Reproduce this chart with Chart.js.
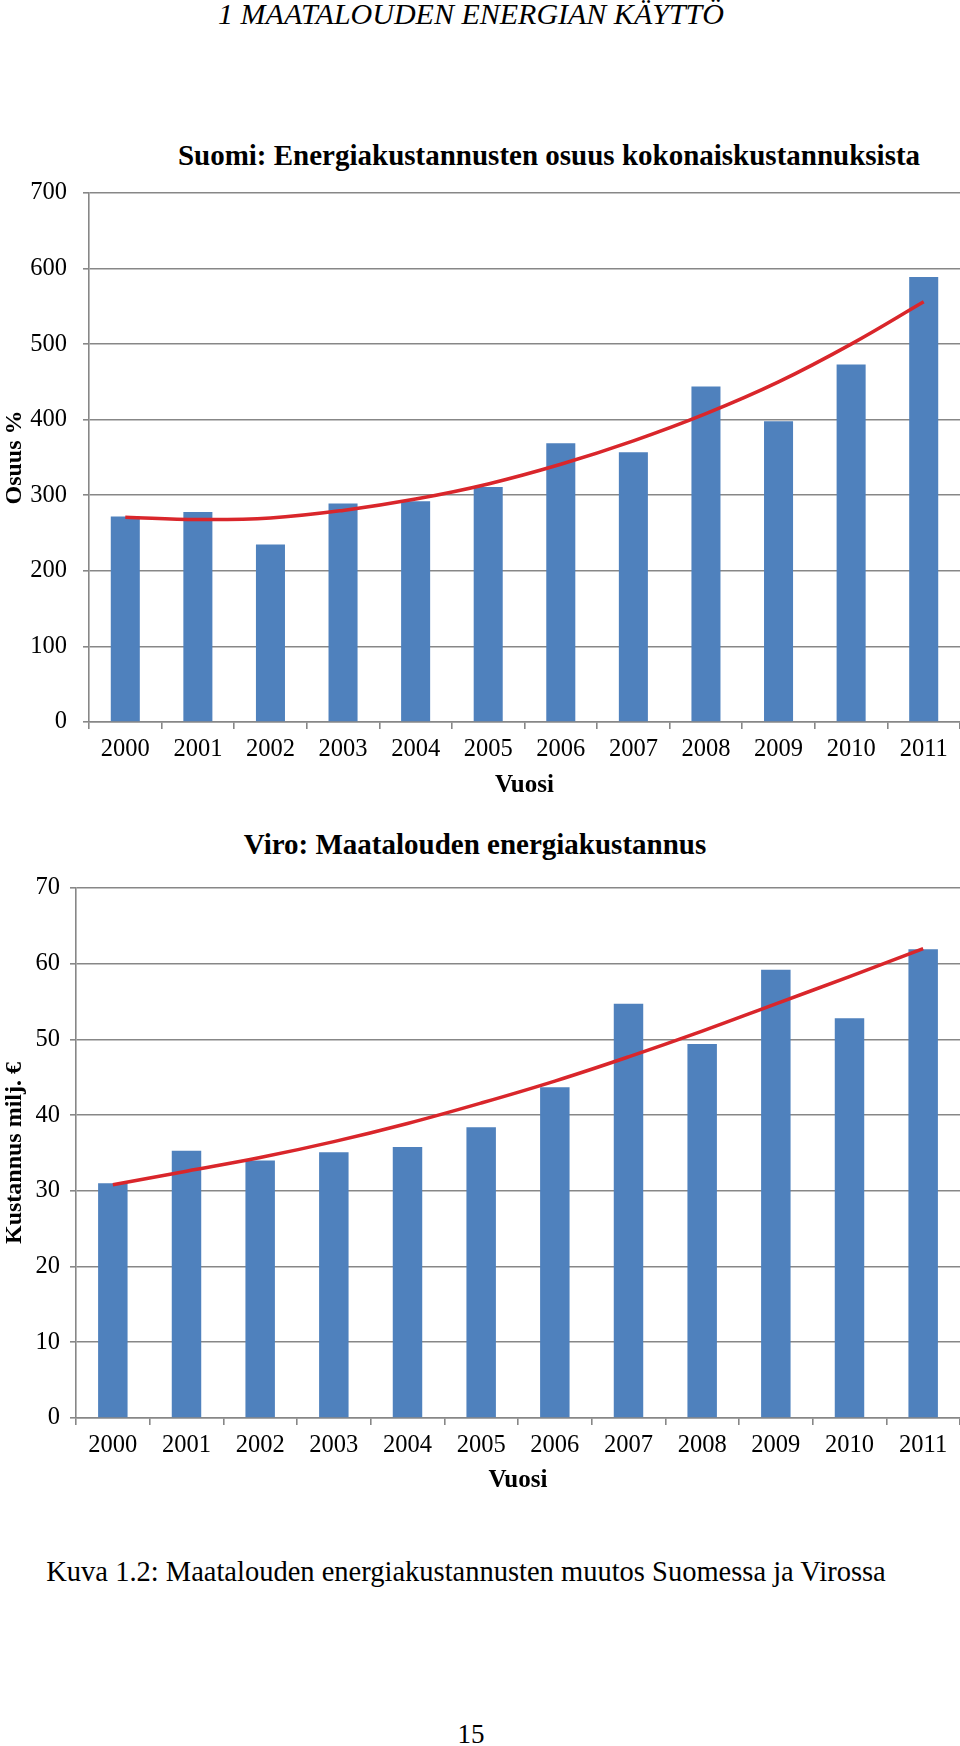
<!DOCTYPE html>
<html lang="fi">
<head>
<meta charset="utf-8">
<title>Maatalouden energiakustannukset</title>
<script src="https://cdn.jsdelivr.net/npm/chart.js@4.4.0/dist/chart.umd.min.js"></script>
<style>
    html, body { margin: 0; padding: 0; background: #fff; }
    body { width: 960px; height: 1746px; position: relative; overflow: hidden;
           font-family: 'Liberation Serif', 'Times New Roman', serif; color: #000; }
    .teksti { position: absolute; white-space: nowrap; line-height: 1; transform: translate(-50%, -50%); }
    .otsikko { font-weight: bold; font-size: 29px; }
    .kaavio { position: absolute; left: 0; width: 960px; }
</style>
</head>
<body>
<div class="teksti" style="left:471px; top:14px; font-size:30px; font-style:italic;">1 MAATALOUDEN ENERGIAN KÄYTTÖ</div>

<div class="teksti otsikko" style="left:549px; top:155px;">Suomi: Energiakustannusten osuus kokonaiskustannuksista</div>
<div class="kaavio" style="top:120px; height:700px;"><canvas id="suomi-chart"></canvas></div>

<div class="teksti otsikko" style="left:475px; top:844px;">Viro: Maatalouden energiakustannus</div>
<div class="kaavio" style="top:860px; height:640px;"><canvas id="viro-chart"></canvas></div>

<div class="teksti" style="left:466px; top:1572px; font-size:28.5px;">Kuva 1.2: Maatalouden energiakustannusten muutos Suomessa ja Virossa</div>
<div class="teksti" style="left:471px; top:1734px; font-size:27px;">15</div>

<script>
// Vuodet (x-akseli)
const vuodet = ['2000', '2001', '2002', '2003', '2004', '2005', '2006', '2007', '2008', '2009', '2010', '2011'];

// Suomi: energiakustannusten osuus (%) ja trendiviiva
const suomiOsuus = [272, 278, 235, 289, 292, 311, 369, 357, 444, 398, 473, 589];
const suomiTrendi = [271, 268, 270, 280, 295, 315, 341, 372, 408, 450, 500, 556];

// Viro: maatalouden energiakustannus (milj. €) ja trendiviiva
const viroKustannus = [31.0, 35.3, 34.0, 35.1, 35.8, 38.4, 43.7, 54.7, 49.4, 59.2, 52.8, 61.9];
const viroTrendi = [30.8, 32.6, 34.4, 36.5, 38.9, 41.6, 44.5, 47.7, 51.1, 54.7, 58.3, 62.0];

const SININEN = '#4f81bd';
const PUNAINEN = '#d9262b';
const HARMAA = '#878787';

Chart.defaults.font.family = "'Liberation Serif', 'Times New Roman', serif";
Chart.defaults.color = '#000';

// Yhteinen asetusfunktio molemmille kaavioille
function teeKaavio(id, arvot, trendi, asetukset) {
    const ctx = document.getElementById(id).getContext('2d');
    return new Chart(ctx, {
        type: 'bar',
        data: {
            labels: vuodet,
            datasets: [{
                type: 'line',
                data: trendi,
                borderColor: PUNAINEN,
                borderWidth: 3.5,
                pointRadius: 0,
                tension: 0.4,
                fill: false,
                order: 0
            }, {
                data: arvot,
                backgroundColor: SININEN,
                barPercentage: 0.4,
                categoryPercentage: 1.0,
                order: 1
            }]
        },
        options: {
            responsive: true,
            maintainAspectRatio: false,
            animation: false,
            layout: { padding: { top: asetukset.ylaTila, left: 0, right: 0, bottom: 0 } },
            plugins: { legend: { display: false }, tooltip: { enabled: false } },
            scales: {
                x: {
                    afterFit: function (s) { s.height = asetukset.xKorkeus; },
                    grid: { drawOnChartArea: false, drawTicks: true, tickLength: 7, color: HARMAA, lineWidth: 1.6 },
                    border: { color: HARMAA, width: 1.6 },
                    ticks: { font: { size: 24.5 }, padding: 6, maxRotation: 0 },
                    title: {
                        display: true,
                        text: 'Vuosi',
                        font: { size: 25, weight: 'bold' },
                        padding: { top: 0, bottom: asetukset.vuosiAla }
                    }
                },
                y: {
                    min: 0,
                    max: asetukset.yMax,
                    afterFit: function (s) { s.width = asetukset.yLeveys; },
                    grid: { color: HARMAA, lineWidth: 1.6, tickLength: 6 },
                    border: { color: HARMAA, width: 1.6 },
                    ticks: { stepSize: asetukset.yAskel, font: { size: 24.5 }, padding: asetukset.yPadding },
                    title: {
                        display: true,
                        text: asetukset.yOtsikko,
                        font: { size: 24, weight: 'bold' },
                        padding: { top: 0, bottom: 0 }
                    }
                }
            }
        }
    });
}

document.addEventListener('DOMContentLoaded', function () {
    teeKaavio('suomi-chart', suomiOsuus, suomiTrendi, {
        ylaTila: 73, xKorkeus: 98, vuosiAla: 19, yLeveys: 89, yPadding: 16,
        yMax: 700, yAskel: 100, yOtsikko: 'Osuus %'
    });
    teeKaavio('viro-chart', viroKustannus, viroTrendi, {
        ylaTila: 28, xKorkeus: 82, vuosiAla: 4, yLeveys: 76, yPadding: 10,
        yMax: 70, yAskel: 10, yOtsikko: 'Kustannus milj. €'
    });
});
</script>
</body>
</html>
